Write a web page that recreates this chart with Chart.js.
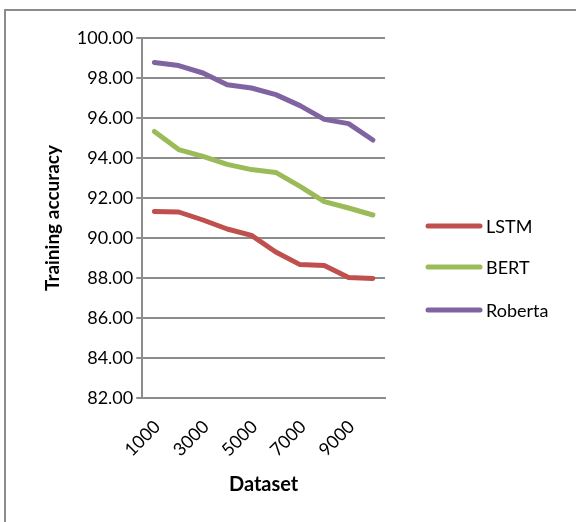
<!DOCTYPE html>
<html>
<head>
<meta charset="utf-8">
<script src="https://cdn.jsdelivr.net/npm/chart.js@4"></script>
<style>
  html, body { margin: 0; padding: 0; background: #fff; }
  #wrap { position: relative; width: 576px; height: 522px; overflow: hidden; }
  #frame { position: absolute; left: 4px; top: 9px; width: 620px; height: 620px; border: 2px solid #8c8c8c; pointer-events: none; }
  canvas { position: absolute; left: 0; top: 0; }
</style>
</head>
<body>
<div id="wrap">
  <div id="frame"></div>
  <canvas id="chart" width="576" height="522"></canvas>
</div>
<script>
const categories = ['1000', '2000', '3000', '4000', '5000', '6000', '7000', '8000', '9000', '10000'];
const lstm = [91.33, 91.30, 90.90, 90.45, 90.13, 89.30, 88.67, 88.62, 88.02, 87.98];
const bert = [95.33, 94.42, 94.08, 93.68, 93.42, 93.28, 92.58, 91.82, 91.50, 91.15];
const roberta = [98.78, 98.62, 98.25, 97.66, 97.50, 97.17, 96.62, 95.93, 95.72, 94.90];

const FONT = 'Lato, "Open Sans", sans-serif';
const GRID = '#8c8c8c';

Chart.defaults.color = '#000';
Chart.defaults.font.family = FONT;
Chart.defaults.font.size = 18;

function series(label, data, color) {
  return {
    label, data,
    borderColor: color,
    backgroundColor: color,
    borderWidth: 5,
    borderCapStyle: 'round',
    borderJoinStyle: 'round',
    tension: 0,
    pointRadius: 0,
    fill: false,
  };
}

// legend drawn at the right, Excel style
const sideLegend = {
  id: 'sideLegend',
  afterDraw(chart) {
    const ctx = chart.ctx;
    const rows = [226, 267, 310];
    ctx.save();
    ctx.font = '18px ' + FONT;
    ctx.textBaseline = 'middle';
    ctx.fillStyle = '#000';
    chart.data.datasets.forEach((ds, i) => {
      ctx.strokeStyle = ds.borderColor;
      ctx.lineWidth = 5;
      ctx.lineCap = 'round';
      ctx.beginPath();
      ctx.moveTo(428, rows[i]);
      ctx.lineTo(480, rows[i]);
      ctx.stroke();
      ctx.fillText(ds.label, 486, rows[i] + 1);
    });
    ctx.restore();
  }
};

new Chart(document.getElementById('chart'), {
  type: 'line',
  data: {
    labels: categories,
    datasets: [
      series('LSTM', lstm, '#c0504d'),
      series('BERT', bert, '#9bbb59'),
      series('Roberta', roberta, '#8064a2'),
    ]
  },
  options: {
    responsive: false,
    animation: false,
    layout: { padding: { left: 41, top: 38, right: 191, bottom: 25 } },
    plugins: { legend: { display: false }, tooltip: { enabled: false } },
    scales: {
      x: {
        offset: true,
        afterFit: s => { s.height = 99; },
        grid: { display: false, drawTicks: false },
        border: { display: true, color: GRID, width: 2 },
        ticks: {
          autoSkip: false,
          minRotation: 45,
          maxRotation: 45,
          padding: 18,
          labelOffset: 3,
          callback: (v, i) => (i % 2 === 0 ? categories[i] : ''),
        },
        title: { display: true, text: 'Dataset', font: { weight: 'bold', size: 20 }, padding: { top: 6, bottom: 0 } },
      },
      y: {
        min: 82,
        max: 100,
        grid: { color: GRID, lineWidth: 2, tickLength: 6 },
        border: { display: true, color: GRID, width: 2 },
        ticks: { stepSize: 2, padding: 3, callback: v => v.toFixed(2) },
        title: { display: true, text: 'Training accuracy', font: { weight: 'bold', size: 19 }, padding: { top: 0, bottom: 10 } },
      }
    }
  },
  plugins: [sideLegend]
});
</script>
</body>
</html>
